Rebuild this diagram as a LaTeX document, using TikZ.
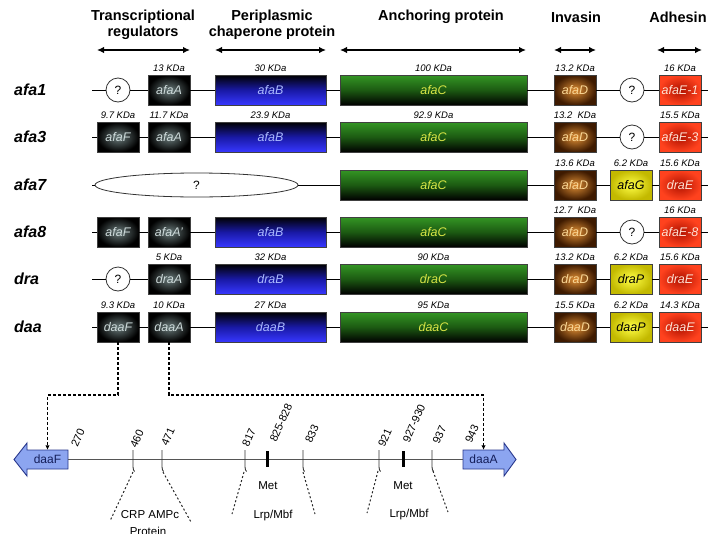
\documentclass[tikz,border=0pt]{standalone}
\usepackage{fontspec}
\setmainfont{Liberation Sans}
\usetikzlibrary{arrows.meta,shapes.geometric}

\definecolor{dkin}{RGB}{105,122,122}
\definecolor{dktext}{RGB}{205,218,218}
\definecolor{bluebot}{RGB}{55,55,255}
\definecolor{bluemid}{RGB}{25,25,165}
\definecolor{bluetext}{RGB}{170,185,255}
\definecolor{greentop}{RGB}{52,150,36}
\definecolor{greenmid}{RGB}{28,90,18}
\definecolor{greentext}{RGB}{215,228,70}
\definecolor{orin}{RGB}{222,142,52}
\definecolor{orout}{RGB}{62,26,0}
\definecolor{ortext}{RGB}{250,215,150}
\definecolor{yelin}{RGB}{255,255,70}
\definecolor{yelout}{RGB}{195,185,0}
\definecolor{redin}{RGB}{175,18,0}
\definecolor{redout}{RGB}{255,66,30}
\definecolor{redtext}{RGB}{255,226,212}
\definecolor{barfill}{RGB}{140,165,240}
\definecolor{barline}{RGB}{40,55,140}
\definecolor{bartxt}{RGB}{20,30,90}
\definecolor{tline}{RGB}{85,85,85}

\begin{document}
\begin{tikzpicture}[x=1pt,y=-1pt,
  head/.style={font=\fontsize{14.5}{16}\selectfont\bfseries, align=center, inner sep=0pt},
  hdarrow/.style={line width=1.6pt, {Latex[length=7pt,width=6.5pt]}-{Latex[length=7pt,width=6.5pt]}},
  rowlabel/.style={font=\fontsize{16}{18}\selectfont\bfseries\itshape, anchor=west, inner sep=0pt},
  backbone/.style={line width=1pt, black},
  gene/.style={draw=black!75, line width=0.6pt, minimum height=30pt, inner sep=0pt,
    font=\fontsize{12.5}{14}\selectfont\itshape},
  narrow/.style={gene, minimum width=42pt},
  darkbox/.style={narrow, inner color=dkin, outer color=black, text=dktext},
  bluebox/.style={gene, minimum width=111pt, top color=black, bottom color=bluebot, middle color=bluemid, text=bluetext},
  greenbox/.style={gene, minimum width=187pt, top color=greentop, bottom color=black, middle color=greenmid, text=greentext},
  orangebox/.style={narrow, inner color=orin, outer color=orout, text=ortext},
  yellowbox/.style={narrow, inner color=yelin, outer color=yelout, text=black},
  redbox/.style={narrow, inner color=redin, outer color=redout, text=redtext},
  qcircle/.style={circle, draw=black!80, line width=0.8pt, fill=white, minimum size=24pt, inner sep=0pt,
    font=\fontsize{12}{14}\selectfont},
  qell/.style={ellipse, draw=black!80, line width=0.8pt, fill=white, minimum width=203pt, minimum height=24pt,
    inner sep=0pt, font=\fontsize{12}{14}\selectfont},
  kda/.style={font=\fontsize{9.5}{11}\selectfont\itshape, anchor=south, inner sep=0pt},
  dashconn/.style={line width=1.1pt, dash pattern=on 3pt off 2pt, -{Latex[length=4.5pt,width=4.5pt]}},
  barshape/.style={fill=barfill, draw=barline, line width=0.9pt},
  bartext/.style={font=\fontsize{12}{14}\selectfont, text=bartxt, minimum width=41pt, minimum height=19pt, inner sep=0pt},
  timeline/.style={line width=1.8pt, tline},
  tick/.style={line width=0.9pt, black!80},
  thicktick/.style={line width=3pt, black},
  num/.style={font=\fontsize{11}{12}\selectfont, rotate=66, inner sep=0pt},
  site/.style={font=\fontsize{11.5}{13}\selectfont, inner sep=0pt},
  dotted line/.style={line width=1pt, dash pattern=on 2pt off 2.2pt, black!85}
]
\useasboundingbox (0,0) rectangle (708,533);

% ---------- headers ----------
\node[head] (h1) at (143,25) {Transcriptional\\regulators};
\node[head] (h2) at (272,25) {Periplasmic\\chaperone protein};
\node[head] (h3) at (441,17) {Anchoring protein};
\node[head] (h4) at (576,17) {Invasin};
\node[head] (h5) at (678,17) {Adhesin};
\coordinate (t1a) at (97,50);  \coordinate (t1b) at (190,50);
\coordinate (t2a) at (215,50); \coordinate (t2b) at (326,50);
\coordinate (t3a) at (340,50); \coordinate (t3b) at (526,50);
\coordinate (t4a) at (554,50); \coordinate (t4b) at (596,50);
\coordinate (t5a) at (657,50); \coordinate (t5b) at (702,50);
\draw[hdarrow] (t1a) -- (t1b);
\draw[hdarrow] (t2a) -- (t2b);
\draw[hdarrow] (t3a) -- (t3b);
\draw[hdarrow] (t4a) -- (t4b);
\draw[hdarrow] (t5a) -- (t5b);

% ---------- row afa1 ----------
\node[rowlabel] (L1) at (14,90) {afa1};
\coordinate (s1) at (92,90); \coordinate (e1) at (708,90);
\node[qcircle] (q11) at (118,90) {?};
\node[darkbox] (a12) at (169,90) {afaA};
\node[bluebox] (a13) at (270.5,90) {afaB};
\node[greenbox] (a14) at (433.5,90) {afaC};
\node[orangebox] (a15) at (575,90) {afaD};
\node[qcircle] (q16) at (632,90) {?};
\node[redbox] (a17) at (680,90) {afaE-1};
\draw[backbone] (s1) -- (q11) -- (a12) -- (a13) -- (a14) -- (a15) -- (q16) -- (a17) -- (e1);
\node[kda] (k12) at ([yshift=3pt]a12.north) {13 KDa};
\node[kda] (k13) at ([yshift=3pt]a13.north) {30 KDa};
\node[kda] (k14) at ([yshift=3pt]a14.north) {100 KDa};
\node[kda] (k15) at ([yshift=3pt]a15.north) {13.2 KDa};
\node[kda] (k17) at ([yshift=3pt]a17.north) {16 KDa};

% ---------- row afa3 ----------
\node[rowlabel] (L2) at (14,137) {afa3};
\coordinate (s2) at (92,137); \coordinate (e2) at (708,137);
\node[darkbox] (a21) at (118,137) {afaF};
\node[darkbox] (a22) at (169,137) {afaA};
\node[bluebox] (a23) at (270.5,137) {afaB};
\node[greenbox] (a24) at (433.5,137) {afaC};
\node[orangebox] (a25) at (575,137) {afaD};
\node[qcircle] (q26) at (632,137) {?};
\node[redbox] (a27) at (680,137) {afaE-3};
\draw[backbone] (s2) -- (a21) -- (a22) -- (a23) -- (a24) -- (a25) -- (q26) -- (a27) -- (e2);
\node[kda] (k21) at ([yshift=3pt]a21.north) {9.7 KDa};
\node[kda] (k22) at ([yshift=3pt]a22.north) {11.7 KDa};
\node[kda] (k23) at ([yshift=3pt]a23.north) {23.9 KDa};
\node[kda] (k24) at ([yshift=3pt]a24.north) {92.9 KDa};
\node[kda] (k25) at ([yshift=3pt]a25.north) {13.2\ \ KDa};
\node[kda] (k27) at ([yshift=3pt]a27.north) {15.5 KDa};

% ---------- row afa7 ----------
\node[rowlabel] (L3) at (14,185) {afa7};
\coordinate (s3) at (92,185); \coordinate (e3) at (708,185);
\node[qell] (q31) at (196.5,185) {?};
\node[greenbox] (a34) at (433.5,185) {afaC};
\node[orangebox] (a35) at (575,185) {afaD};
\node[yellowbox] (a36) at (631,185) {afaG};
\node[redbox] (a37) at (680,185) {draE};
\draw[backbone] (s3) -- (q31) -- (a34) -- (a35) -- (a36) -- (a37) -- (e3);
\node[kda] (k35) at ([yshift=3pt]a35.north) {13.6 KDa};
\node[kda] (k36) at ([yshift=3pt]a36.north) {6.2 KDa};
\node[kda] (k37) at ([yshift=3pt]a37.north) {15.6 KDa};

% ---------- row afa8 ----------
\node[rowlabel] (L4) at (14,232) {afa8};
\coordinate (s4) at (92,232); \coordinate (e4) at (708,232);
\node[darkbox] (a41) at (118,232) {afaF};
\node[darkbox] (a42) at (169,232) {afaA'};
\node[bluebox] (a43) at (270.5,232) {afaB};
\node[greenbox] (a44) at (433.5,232) {afaC};
\node[orangebox] (a45) at (575,232) {afaD};
\node[qcircle] (q46) at (632,232) {?};
\node[redbox] (a47) at (680,232) {afaE-8};
\draw[backbone] (s4) -- (a41) -- (a42) -- (a43) -- (a44) -- (a45) -- (q46) -- (a47) -- (e4);
\node[kda] (k45) at ([yshift=3pt]a45.north) {12.7\ \ KDa};
\node[kda] (k47) at ([yshift=3pt]a47.north) {16 KDa};

% ---------- row dra ----------
\node[rowlabel] (L5) at (14,279) {dra};
\coordinate (s5) at (92,279); \coordinate (e5) at (708,279);
\node[qcircle] (q51) at (118,279) {?};
\node[darkbox] (a52) at (169,279) {draA};
\node[bluebox] (a53) at (270.5,279) {draB};
\node[greenbox] (a54) at (433.5,279) {draC};
\node[orangebox] (a55) at (575,279) {draD};
\node[yellowbox] (a56) at (631,279) {draP};
\node[redbox] (a57) at (680,279) {draE};
\draw[backbone] (s5) -- (q51) -- (a52) -- (a53) -- (a54) -- (a55) -- (a56) -- (a57) -- (e5);
\node[kda] (k52) at ([yshift=3pt]a52.north) {5 KDa};
\node[kda] (k53) at ([yshift=3pt]a53.north) {32 KDa};
\node[kda] (k54) at ([yshift=3pt]a54.north) {90 KDa};
\node[kda] (k55) at ([yshift=3pt]a55.north) {13.2 KDa};
\node[kda] (k56) at ([yshift=3pt]a56.north) {6.2 KDa};
\node[kda] (k57) at ([yshift=3pt]a57.north) {15.6 KDa};

% ---------- row daa ----------
\node[rowlabel] (L6) at (14,327) {daa};
\coordinate (s6) at (92,327); \coordinate (e6) at (708,327);
\node[darkbox] (daaF) at (118,327) {daaF};
\node[darkbox] (daaA) at (169,327) {daaA};
\node[bluebox] (daaB) at (270.5,327) {daaB};
\node[greenbox] (daaC) at (433.5,327) {daaC};
\node[orangebox] (daaD) at (575,327) {daaD};
\node[yellowbox] (daaP) at (631,327) {daaP};
\node[redbox] (daaE) at (680,327) {daaE};
\draw[backbone] (s6) -- (daaF) -- (daaA) -- (daaB) -- (daaC) -- (daaD) -- (daaP) -- (daaE) -- (e6);
\node[kda] (k61) at ([yshift=3pt]daaF.north) {9.3 KDa};
\node[kda] (k62) at ([yshift=3pt]daaA.north) {10 KDa};
\node[kda] (k63) at ([yshift=3pt]daaB.north) {27 KDa};
\node[kda] (k64) at ([yshift=3pt]daaC.north) {95 KDa};
\node[kda] (k65) at ([yshift=3pt]daaD.north) {15.5 KDa};
\node[kda] (k66) at ([yshift=3pt]daaP.north) {6.2 KDa};
\node[kda] (k67) at ([yshift=3pt]daaE.north) {14.3 KDa};

% ---------- bottom map ----------
\filldraw[barshape] (68,450) -- (27,450) -- (27,443) -- (14,459.5) -- (27,476) -- (27,469) -- (68,469) -- cycle;
\filldraw[barshape] (463,450) -- (504,450) -- (504,443) -- (516,459.5) -- (504,476) -- (504,469) -- (463,469) -- cycle;
\node[bartext] (daaFbox) at (47.5,459.5) {daaF};
\node[bartext] (daaAbox) at (483.5,459.5) {daaA};
\draw[timeline] (daaFbox.east) -- (daaAbox.west);

\coordinate (jF) at (118,395);
\coordinate (jA) at (169,395);
\draw[dashconn] (daaF.south) -- (jF) -| (daaFbox.north);
\draw[dashconn] (daaA.south) -- (jA) -| (daaAbox.north);

% ticks
\foreach \tx in {133,162,245,303,379,432}{
  \draw[tick] (\tx,450) -- (\tx,467) .. controls (\tx,469.5) and (\tx+0.8,470.5) .. (\tx+1.6,471.5);
}
\draw[thicktick] (267,451) -- (267,467);
\draw[thicktick] (403,451) -- (403,467);

% position labels
\node[num] (n270) at (78,438) {270};
\node[num] (n460) at (137,439) {460};
\node[num] (n471) at (168,437) {471};
\node[num] (n817) at (249,437.5) {817};
\node[num] (n825) at (281,423) {825-828};
\node[num] (n833) at (312,434) {833};
\node[num] (n921) at (385,438) {921};
\node[num] (n927) at (414,423.5) {927-930};
\node[num] (n937) at (439.5,435) {937};
\node[num] (n943) at (472,434) {943};

% binding site brackets
\coordinate (b1a) at (133,472); \coordinate (b1b) at (110,521);
\coordinate (b2a) at (163,472); \coordinate (b2b) at (191,522);
\coordinate (b3a) at (244,472); \coordinate (b3b) at (232,514);
\coordinate (b4a) at (303,472); \coordinate (b4b) at (315,514);
\coordinate (b5a) at (378,471); \coordinate (b5b) at (367,513);
\coordinate (b6a) at (433,471); \coordinate (b6b) at (448,512);
\draw[dotted line] (b1a) -- (b1b);
\draw[dotted line] (b2a) -- (b2b);
\draw[dotted line] (b3a) -- (b3b);
\draw[dotted line] (b4a) -- (b4b);
\draw[dotted line] (b5a) -- (b5b);
\draw[dotted line] (b6a) -- (b6b);

\node[site] (crp) at (150,515) {CRP AMPc};
\node[site] (prot) at (148,531) {Protein};
\node[site] (met1) at (268,486) {Met};
\node[site] (lrp1) at (273,516) {Lrp/Mbf};
\node[site] (met2) at (403,486) {Met};
\node[site] (lrp2) at (409,515) {Lrp/Mbf};
\end{tikzpicture}
\end{document}
